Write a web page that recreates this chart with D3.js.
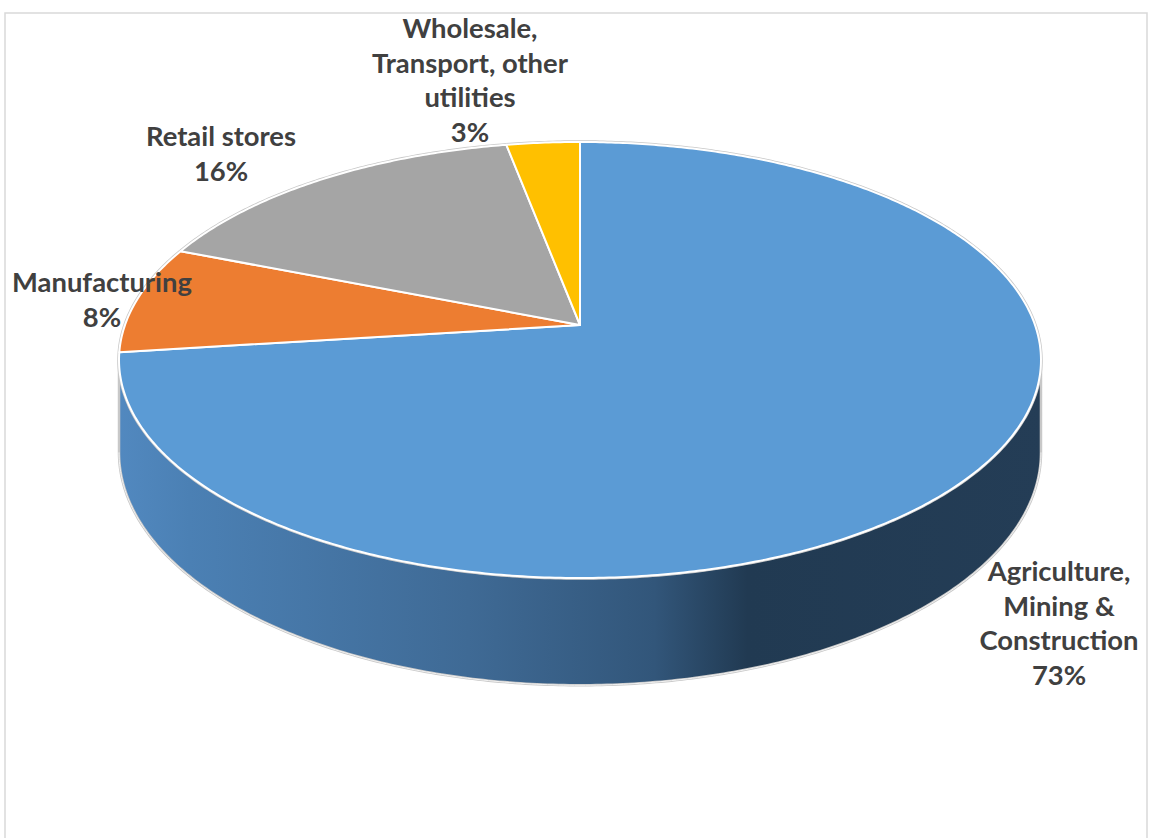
<!DOCTYPE html>
<html>
<head>
<meta charset="utf-8">
<script src="https://cdn.jsdelivr.net/npm/d3@7"></script>
<style>
  html, body { margin: 0; padding: 0; background: #fff; }
  svg { display: block; }
</style>
</head>
<body>
<svg id="chart" width="1151" height="838"></svg>
<script>
// ---- data ----
const categories = ["Agriculture, Mining & Construction", "Manufacturing", "Retail stores", "Wholesale, Transport, other utilities"];
const values = [73, 8, 16, 3];
const labelLines = [["Agriculture,", "Mining &", "Construction"], ["Manufacturing"], ["Retail stores"], ["Wholesale,", "Transport, other", "utilities"]];
const colors = ["#5B9BD5", "#ED7D31", "#A5A5A5", "#FFC000"];

// ---- layout ----
const W = 1151, H = 838;
const cx = 580, cy = 325;       // apex of the pie on screen
const a = 455, b = 212.4;       // projected radii before perspective
const k = 0.1606;               // perspective factor
const depth = 90;               // thickness of the pie
const labelCenters = [[1059, 0], [102, 0], [221, 0], [470, 0]];
const labelFirstBaseline = [581, 292, 146, 38];
const lineGap = 34.5;

const svg = d3.select("#chart");

// scales for world coordinates on the pie plane
const xS = d3.scaleLinear().domain([-1, 1]).range([-a, a]);
const yS = d3.scaleLinear().domain([-1, 1]).range([b, -b]);

function proj(theta, r = 1, dz = 0) {
  const u = r * Math.sin(theta), v = r * Math.cos(theta);
  const w = 1 + k * v;
  return [cx + xS(u) / w, cy + yS(v) / w + dz / w];
}
function arcPts(t0, t1, dz = 0) {
  const n = Math.max(2, Math.ceil(Math.abs(t1 - t0) / 0.01));
  return d3.range(n + 1).map(i => proj(t0 + (t1 - t0) * i / n, 1, dz));
}
const line = d3.line().curve(d3.curveLinear);

// frame
svg.append("rect").attr("x", 5).attr("y", 13).attr("width", 1142).attr("height", 900)
  .attr("fill", "#fff").attr("stroke", "#d9d9d9").attr("stroke-width", 1.5);

// gradient for side
const defs = svg.append("defs");
const grad = defs.append("linearGradient").attr("id", "sideGrad")
  .attr("gradientUnits", "userSpaceOnUse")
  .attr("x1", cx - a - 10).attr("x2", cx + a + 10).attr("y1", 0).attr("y2", 0);
[[0, "#5289c0"], [0.08, "#4b80b4"], [0.38, "#3f6a95"], [0.58, "#32567a"], [0.68, "#213a52"], [1, "#243d56"]]
  .forEach(([o, c]) => grad.append("stop").attr("offset", o).attr("stop-color", c));

const pie = d3.pie().sort(null).value(d => d)(values);

// side wall (front visible part)
const tA = Math.acos(-k), tB = 2 * Math.PI - Math.acos(-k);
const sidePts = arcPts(tA, tB, 0).concat(arcPts(tB, tA, depth));
svg.append("path").attr("d", line(sidePts) + "Z")
  .attr("fill", "url(#sideGrad)").attr("stroke", "#c8c8c8").attr("stroke-width", 2.5);
svg.append("path").attr("d", line(arcPts(tA, tB, depth)))
  .attr("fill", "none").attr("stroke", "#f2f2f2").attr("stroke-width", 1);

// outer grey edge of the top
svg.append("path").attr("d", line(arcPts(0, 2 * Math.PI, 0)) + "Z")
  .attr("fill", "none").attr("stroke", "#c8c8c8").attr("stroke-width", 3.5);

// top slices
svg.append("g").selectAll("path").data(pie).join("path")
  .attr("d", d => line([[cx, cy]].concat(arcPts(d.startAngle, d.endAngle, 0))) + "Z")
  .attr("fill", (d, i) => colors[i])
  .attr("stroke", "#ffffff").attr("stroke-width", 2).attr("stroke-linejoin", "round");

// labels
const total = d3.sum(values);
const fmt = d3.format(".0%");
const lg = svg.append("g")
  .attr("font-family", "Lato, 'Open Sans', sans-serif")
  .attr("font-weight", 700).attr("fill", "#404040").attr("text-anchor", "middle");

// fit font size so the labels are as wide as in the reference
const probe = lg.append("text").attr("font-size", 28).text("Manufacturing");
const fs = 28 * 180 / probe.node().getComputedTextLength();
probe.remove();
lg.attr("font-size", fs.toFixed(2));

pie.forEach((d, i) => {
  const lines = labelLines[i].concat([fmt(values[i] / total)]);
  const t = lg.append("text");
  lines.forEach((s, j) => {
    t.append("tspan").attr("x", labelCenters[i][0])
      .attr("y", labelFirstBaseline[i] + j * lineGap).text(s);
  });
});
</script>
</body>
</html>
